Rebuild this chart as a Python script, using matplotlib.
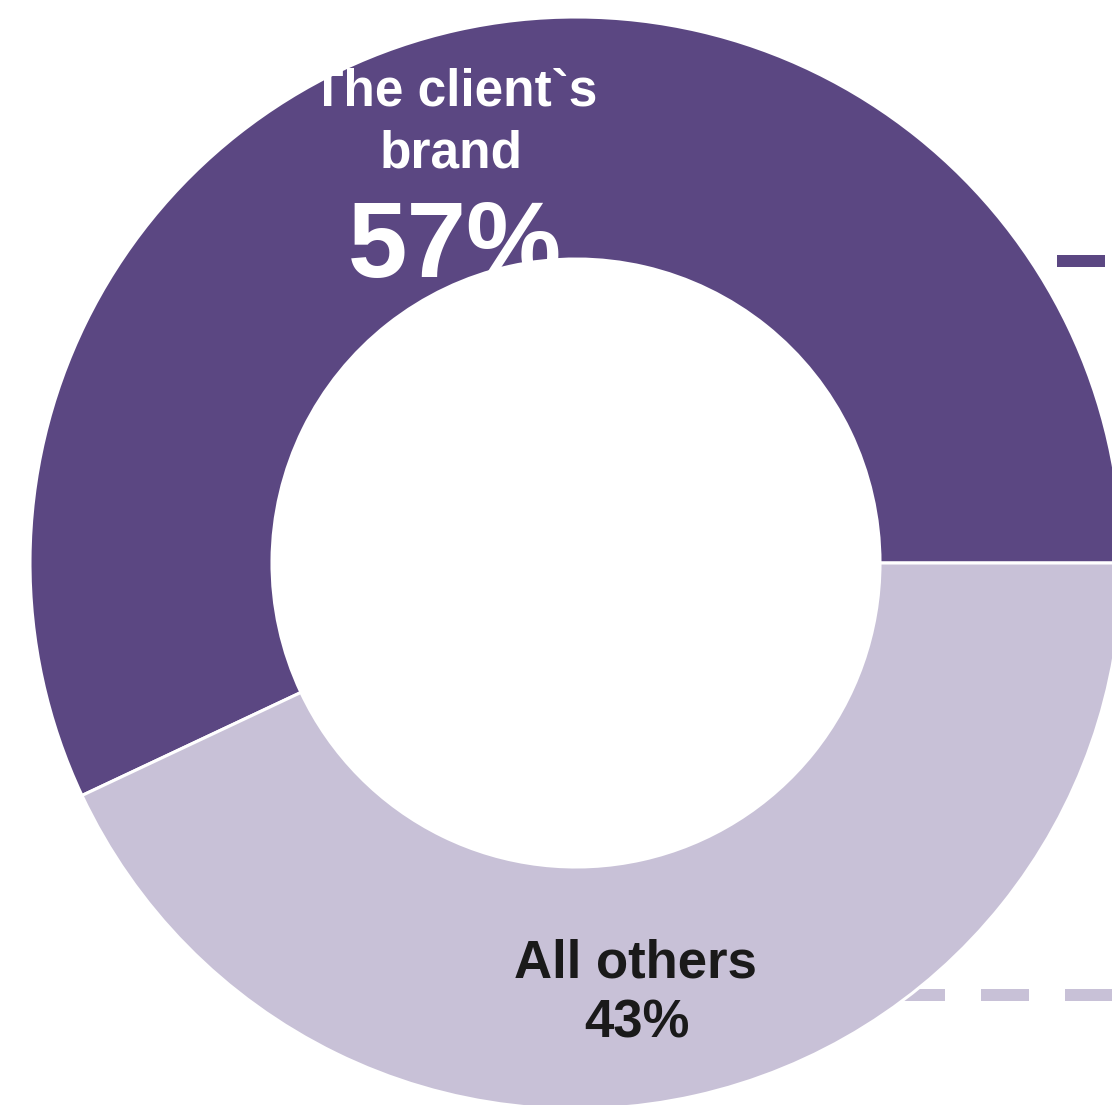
import matplotlib
matplotlib.use("Agg")
import matplotlib.pyplot as plt

# Share of brand mentions
categories = ["The client`s\nbrand", "All others"]
shares = [57, 43]
colors = ["#5B4782", "#C8C1D7"]
text_colors = ["white", "#1A1A1A"]

W, H = 1112, 1105
fig = plt.figure(figsize=(W / 100, H / 100), dpi=100)
ax = fig.add_axes([0, 0, 1, 1])

cx, cy = 576, H - 563
r_out, r_in = 546, 304

# Legend-style keys on the right edge
ax.plot([1057, 1105], [H - 261, H - 261], color=colors[0], lw=12 * 0.72,
        solid_capstyle="butt", zorder=1)
ax.plot([897, 1140], [H - 995, H - 995], color=colors[1], lw=12 * 0.72,
        linestyle=(0, (4, 3)), dash_capstyle="butt", zorder=1)

wedges, _ = ax.pie(shares, colors=colors, startangle=0, counterclock=True,
                   center=(cx, cy), radius=r_out,
                   wedgeprops=dict(width=r_out - r_in, edgecolor="white",
                                   linewidth=2.2))
for w in wedges:
    w.set_zorder(2)

font = ["Liberation Sans", "DejaVu Sans"]

# Labels for the brand segment
name0 = categories[0].split("\n")
ax.text(455, H - 105, name0[0], ha="center", va="baseline", color=text_colors[0],
        fontsize=37, fontweight="bold", family=font, zorder=3)
ax.text(451, H - 167, name0[1], ha="center", va="baseline", color=text_colors[0],
        fontsize=37, fontweight="bold", family=font, zorder=3)
ax.text(455, H - 277, f"{shares[0]}%", ha="center", va="baseline",
        color=text_colors[0], fontsize=77, fontweight="bold", family=font,
        zorder=3)

# Labels for the remaining segment
ax.text(635, H - 977, categories[1], ha="center", va="baseline",
        color=text_colors[1], fontsize=38, fontweight="bold", family=font,
        zorder=3)
ax.text(637, H - 1037, f"{shares[1]}%", ha="center", va="baseline",
        color=text_colors[1], fontsize=38, fontweight="bold", family=font,
        zorder=3)

ax.set_xlim(0, W)
ax.set_ylim(0, H)
ax.set_aspect("equal")
ax.axis("off")

fig.savefig("out.png", dpi=100, facecolor="white")
